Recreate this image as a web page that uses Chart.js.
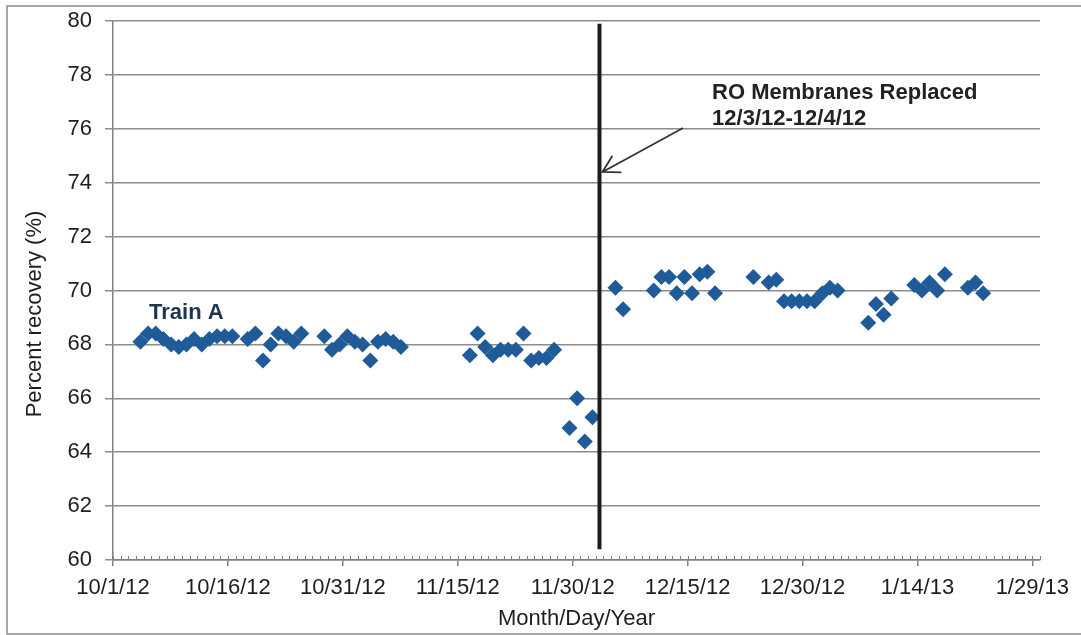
<!DOCTYPE html>
<html>
<head>
<meta charset="utf-8">
<title>Train A percent recovery</title>
<script src="https://cdn.jsdelivr.net/npm/chart.js@4/dist/chart.umd.min.js"></script>
<style>
  html, body { margin: 0; padding: 0; background: #fff; }
  #wrap { width: 1081px; height: 635px; }
</style>
</head>
<body>
<div id="wrap"><canvas id="recoveryChart" width="1081" height="635"></canvas></div>
<script>
// sample dates (M/D/YY) and percent recovery
const sampleDates = [
    '10/4/12', '10/5/12', '10/6/12', '10/7/12', '10/8/12', '10/9/12', '10/10/12', '10/11/12',
    '10/12/12', '10/13/12', '10/14/12', '10/15/12', '10/16/12', '10/18/12', '10/19/12', '10/20/12',
    '10/21/12', '10/22/12', '10/23/12', '10/24/12', '10/25/12', '10/28/12', '10/29/12', '10/30/12',
    '10/31/12', '11/1/12', '11/2/12', '11/3/12', '11/4/12', '11/5/12', '11/6/12', '11/7/12',
    '11/16/12', '11/17/12', '11/18/12', '11/19/12', '11/20/12', '11/21/12', '11/22/12', '11/23/12',
    '11/24/12', '11/25/12', '11/26/12', '11/27/12',
    '11/29/12', '11/30/12', '12/1/12', '12/2/12',
    '12/5/12', '12/6/12', '12/10/12', '12/11/12', '12/12/12', '12/13/12', '12/14/12', '12/15/12',
    '12/16/12', '12/17/12', '12/18/12',
    '12/23/12', '12/25/12', '12/26/12', '12/27/12', '12/28/12', '12/29/12', '12/30/12', '12/31/12',
    '1/1/13', '1/2/13', '1/3/13',
    '1/7/13', '1/8/13', '1/9/13', '1/10/13', '1/13/13', '1/14/13', '1/15/13', '1/16/13',
    '1/17/13', '1/20/13', '1/21/13', '1/22/13'
];
const recovery = [
    68.1, 68.4, 68.4, 68.2, 68.0, 67.9, 68.0, 68.2,
    68.0, 68.2, 68.3, 68.3, 68.3, 68.2, 68.4, 67.4,
    68.0, 68.4, 68.3, 68.1, 68.4, 68.3, 67.8, 68.0,
    68.3, 68.1, 68.0, 67.4, 68.1, 68.2, 68.1, 67.9,
    67.6, 68.4, 67.9, 67.6, 67.8, 67.8, 67.8, 68.4,
    67.4, 67.5, 67.5, 67.8,
    64.9, 66.0, 64.4, 65.3,
    70.1, 69.3, 70.0, 70.5, 70.5, 69.9, 70.5, 69.9,
    70.6, 70.7, 69.9,
    70.5, 70.3, 70.4, 69.6, 69.6, 69.6, 69.6, 69.6,
    69.9, 70.1, 70.0,
    68.8, 69.5, 69.1, 69.7, 70.2, 70.0, 70.3, 70.0,
    70.6, 70.1, 70.3, 69.9
];
const xTickLabels = ['10/1/12', '10/16/12', '10/31/12', '11/15/12', '11/30/12', '12/15/12', '12/30/12', '1/14/13', '1/29/13'];
const replacedDates = ['12/3/12', '12/4/12'];
const replacedLineY = [60.4, 79.9];
const SAMPLE_HOUR = 14; // readings sit a bit past midnight of their date

const FONT = "'Liberation Sans', Arial, sans-serif";
const TEXT = '#1e1e1e';

// days since 10/1/12
function dayNum(s) {
    const p = s.split('/');
    return (Date.UTC(2000 + Number(p[2]), p[0] - 1, Number(p[1])) - Date.UTC(2012, 9, 1)) / 86400000;
}

const points = sampleDates.map((d, i) => ({ x: dayNum(d) + SAMPLE_HOUR / 24, y: recovery[i] }));
const replacedMid = (dayNum(replacedDates[0]) + dayNum(replacedDates[1])) / 2;
const tickDays = xTickLabels.map(dayNum);

const extras = {
    id: 'extras',
    beforeDraw(chart) {
        const ctx = chart.ctx;
        ctx.save();
        ctx.strokeStyle = '#8a8a8a';
        ctx.lineWidth = 1.5;
        ctx.strokeRect(7, 6, 1100, 628);
        ctx.restore();
    },
    afterDraw(chart) {
        const ctx = chart.ctx;
        const xs = chart.scales.x, ys = chart.scales.y;
        ctx.save();

        // daily minor ticks along the x axis
        ctx.strokeStyle = '#808080';
        ctx.lineWidth = 1;
        const bottom = chart.chartArea.bottom;
        for (let d = 0; d <= xs.max; d++) {
            const px = Math.round(xs.getPixelForValue(d)) + 0.5;
            ctx.beginPath();
            ctx.moveTo(px, bottom);
            ctx.lineTo(px, bottom - 4);
            ctx.stroke();
        }

        // y axis title, sits a little below the middle like the original
        ctx.fillStyle = TEXT;
        ctx.font = '22px ' + FONT;
        ctx.textAlign = 'center';
        ctx.textBaseline = 'middle';
        ctx.translate(35, 314);
        ctx.rotate(-Math.PI / 2);
        ctx.fillText('Percent recovery (%)', 0, 0);
        ctx.setTransform(1, 0, 0, 1, 0, 0);

        // series label
        ctx.textAlign = 'left';
        ctx.textBaseline = 'alphabetic';
        ctx.fillStyle = '#1f3350';
        ctx.font = 'bold 22px ' + FONT;
        ctx.fillText('Train A', xs.getPixelForValue(4.7), ys.getPixelForValue(68.94));

        // membrane replacement note + arrow
        ctx.fillStyle = '#222';
        ctx.fillText('RO Membranes Replaced', xs.getPixelForValue(78.2), ys.getPixelForValue(77.1));
        ctx.fillText('12/3/12-12/4/12', xs.getPixelForValue(78.2), ys.getPixelForValue(76.14));

        const tipX = xs.getPixelForValue(replacedMid) + 3, tipY = ys.getPixelForValue(74.4);
        const tailX = xs.getPixelForValue(74.4), tailY = ys.getPixelForValue(76.03);
        ctx.strokeStyle = '#333';
        ctx.lineWidth = 1.8;
        ctx.beginPath();
        ctx.moveTo(tailX, tailY);
        ctx.lineTo(tipX, tipY);
        const ang = Math.atan2(tailY - tipY, tailX - tipX);
        const len = 19, spread = Math.PI / 6;
        ctx.moveTo(tipX + len * Math.cos(ang + spread), tipY + len * Math.sin(ang + spread));
        ctx.lineTo(tipX, tipY);
        ctx.lineTo(tipX + len * Math.cos(ang - spread), tipY + len * Math.sin(ang - spread));
        ctx.stroke();
        ctx.restore();
    }
};

const ctx = document.getElementById('recoveryChart').getContext('2d');
const recoveryChart = new Chart(ctx, {
    type: 'scatter',
    data: {
        datasets: [
            {
                label: 'RO membranes replaced',
                data: replacedLineY.map(y => ({ x: replacedMid, y: y })),
                showLine: true,
                borderColor: '#1c1c1c',
                borderWidth: 4,
                borderCapStyle: 'butt',
                pointRadius: 0
            },
            {
                label: 'Train A',
                data: points,
                pointStyle: 'rectRot',
                pointRadius: 8,
                pointHoverRadius: 8,
                backgroundColor: '#1f5b98',
                borderColor: '#1f5b98',
                borderWidth: 0
            }
        ]
    },
    options: {
        responsive: false,
        animation: false,
        devicePixelRatio: 1,
        layout: { padding: { top: 21, right: 41, bottom: 0, left: 0 } },
        plugins: {
            legend: { display: false },
            tooltip: { enabled: false }
        },
        scales: {
            x: {
                type: 'linear',
                min: 0,
                max: 121,
                afterBuildTicks: scale => { scale.ticks = tickDays.map(v => ({ value: v })); },
                afterFit: scale => { scale.height = 75; },
                ticks: {
                    autoSkip: false,
                    maxRotation: 0,
                    padding: 9,
                    color: TEXT,
                    font: { family: FONT, size: 22 },
                    callback: v => xTickLabels[tickDays.indexOf(v)]
                },
                grid: {
                    drawOnChartArea: false,
                    drawTicks: true,
                    tickLength: 6,
                    color: '#808080',
                    lineWidth: 1.5
                },
                border: { color: '#808080', width: 1.5 },
                title: {
                    display: true,
                    text: 'Month/Day/Year',
                    color: TEXT,
                    font: { family: FONT, size: 22 },
                    padding: { top: 0, bottom: 3 }
                }
            },
            y: {
                min: 60,
                max: 80,
                afterFit: scale => {
                    scale.width = 113;
                    // the top label may poke above the plot, as in the original
                    scale.paddingTop = 0;
                    scale.paddingBottom = 0;
                },
                ticks: {
                    stepSize: 2,
                    padding: 13,
                    color: TEXT,
                    font: { family: FONT, size: 22 }
                },
                grid: {
                    color: '#8c8c8c',
                    lineWidth: 1.5,
                    tickLength: 8
                },
                border: { color: '#808080', width: 1.5 }
            }
        }
    },
    plugins: [extras]
});
</script>
</body>
</html>
